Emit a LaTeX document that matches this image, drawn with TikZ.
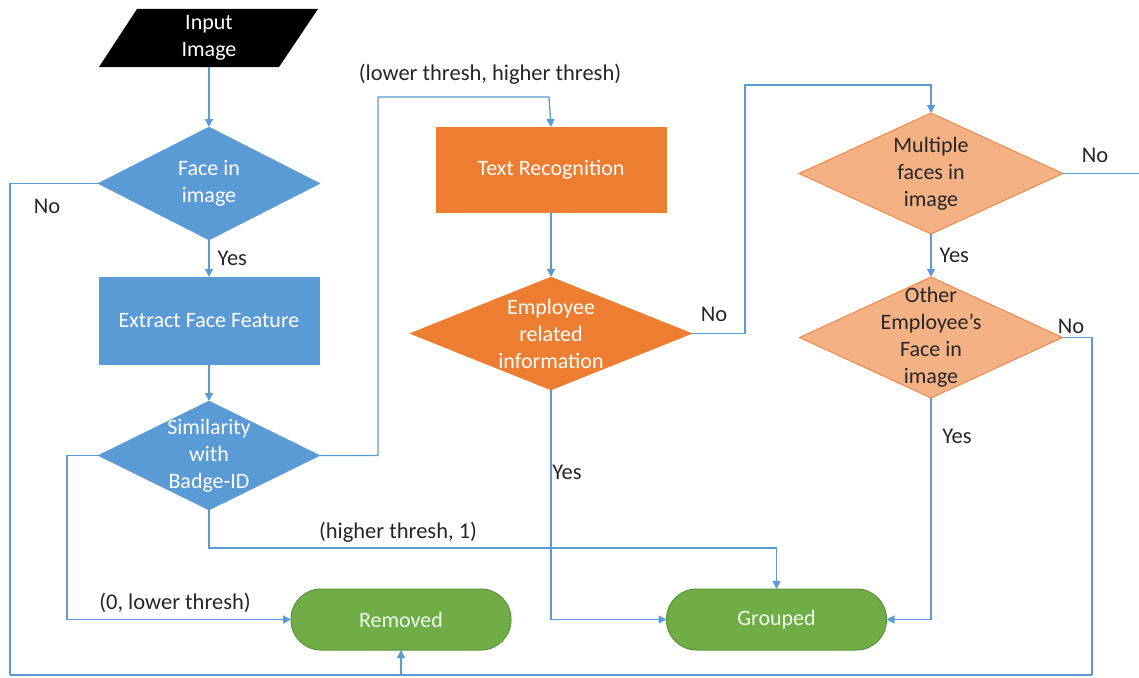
\documentclass[tikz,border=0pt]{standalone}
\usepackage{fontspec}
\setmainfont{Carlito}
\usetikzlibrary{shapes.geometric,arrows.meta}
\definecolor{lineblue}{HTML}{5B9BD5}
\definecolor{boxblue}{HTML}{5B9BD5}
\definecolor{boxorange}{HTML}{ED7D31}
\definecolor{salmon}{HTML}{F4B183}
\definecolor{salmonedge}{HTML}{F08A4B}
\definecolor{boxgreen}{HTML}{70AD47}
\definecolor{greenedge}{HTML}{5A9437}
\definecolor{txt}{HTML}{262626}
\tikzset{
  conn/.style={draw=lineblue, line width=1.3pt},
  arr/.style={conn, -{Triangle[width=8pt,length=8pt]}},
  lbl/.style={font=\fontsize{22.5}{26}\selectfont, text=txt, inner sep=0},
  btxt/.style={font=\fontsize{22}{27}\selectfont, align=center, inner sep=0},
  dia/.style={diamond, inner sep=0, outer sep=0},
  bluebox/.style={fill=boxblue, draw=boxblue, text=white},
  orangebox/.style={fill=boxorange, draw=boxorange, text=white},
  salmonbox/.style={fill=salmon, draw=salmonedge, line width=1pt, text=txt},
  term/.style={rectangle, rounded corners=30pt, fill=boxgreen, draw=greenedge, line width=1pt, text=white!92!green,
    minimum width=220pt, minimum height=61pt, inner sep=0, outer sep=0, font=\fontsize{22}{26}\selectfont},
}
\begin{document}
\begin{tikzpicture}[x=1pt,y=-1pt]
\useasboundingbox (0,0) rectangle (1139,677);
\fill[white] (0,0) rectangle (1139,677);
% Input image
\fill[black] (137,9) -- (318,9) -- (279,67) -- (99,67) -- cycle;
\node[btxt, text=white, minimum width=150pt, minimum height=58pt] (in) at (209,38) {Input\\Image};
% Face in image
\node[dia, bluebox, minimum width=222pt, minimum height=113pt] (face) at (209,183.5) {};
\node[btxt, text=white] at (face) {Face in\\image};
% Extract
\node[rectangle, bluebox, minimum width=220pt, minimum height=87pt, inner sep=0, outer sep=0, btxt] (ext) at (209,320.5) {Extract Face Feature};
% Similarity
\node[dia, bluebox, minimum width=222pt, minimum height=109pt] (sim) at (209,455.5) {};
\node[btxt, text=white] at (sim) {Similarity\\with\\Badge-ID};
% Text Recognition
\node[rectangle, orangebox, minimum width=230pt, minimum height=85pt, inner sep=0, outer sep=0, btxt] (tr) at (551,169.5) {Text Recognition};
% Employee related information
\node[dia, orangebox, minimum width=282pt, minimum height=113pt] (emp) at (551,333.5) {};
\node[btxt, text=white] at (emp) {Employee\\related\\information};
% Multiple faces
\node[dia, salmonbox, minimum width=264pt, minimum height=121pt] (mult) at (931,173.5) {};
\node[btxt, text=txt] at (mult) {Multiple\\faces in\\image};
% Other employee's face
\node[dia, salmonbox, minimum width=263pt, minimum height=121pt] (oth) at (931,337.5) {};
\node[btxt, text=txt] at (oth) {Other\\Employee’s\\Face in\\image};
% Terminals
\node[term] (rem) at (401,619.5) {Removed};
\node[term] (grp) at (776.5,619.5) {Grouped};

% helper coordinates
\coordinate (bl) at (10,675);
\coordinate (br) at (1092,675);
\coordinate (bm) at (401,675);
\coordinate (rx) at (1139,173.5);

% connectors
\draw[arr] (in.south) -- (face.north);
\draw[arr] (face.south) -- (ext.north) node[lbl, midway, right=8pt] {Yes};
\draw[arr] (ext.south) -- (sim.north);
\draw[conn] (face.west) -| (bl);
\node[lbl] at (47,206) {No};
\draw[conn] (bl) -- (br);
\draw[conn] (oth.east) -| (br);
\draw[arr] (bm) -- (rem.south);
\draw[arr] (sim.east) -- (378,455.5) |- (549,97) -- (tr.north);
\node[lbl] at (490,74) {(lower thresh, higher thresh)};
\draw[arr] (sim.west) -- (67,455.5) |- (rem.west);
\node[lbl] at (175,603) {(0, lower thresh)};
\draw[arr] (sim.south) -- (209,548) -| (grp.north);
\node[lbl] at (398,532) {(higher thresh, 1)};
\draw[arr] (tr.south) -- (emp.north);
\draw[arr] (emp.east) -- (745,333.5) |- (931,85) -- (mult.north);
\node[lbl] at (714,314) {No};
\draw[arr] (emp.south) |- (grp.west);
\node[lbl] at (567,472) {Yes};
\draw[conn] (mult.east) -- (rx);
\node[lbl] at (1095,155) {No};
\draw[arr] (mult.south) -- (oth.north) node[lbl, midway, right=8pt] {Yes};
\node[lbl] at (1071,326) {No};
\draw[arr] (oth.south) |- (grp.east);
\node[lbl] at (957,436) {Yes};
\end{tikzpicture}
\end{document}
